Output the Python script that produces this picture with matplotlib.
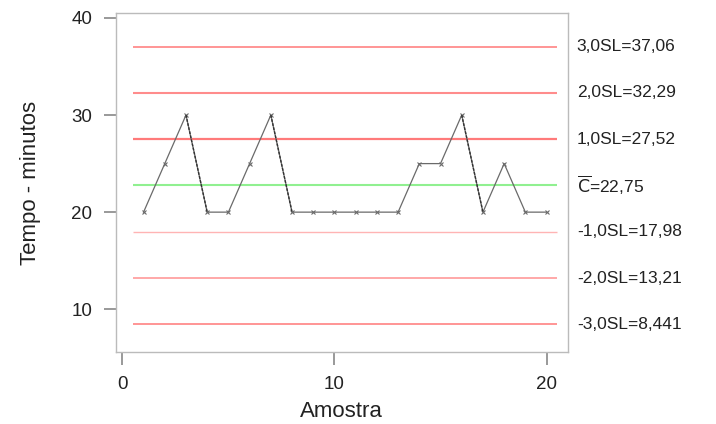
import matplotlib
matplotlib.use("Agg")
import matplotlib.pyplot as plt

# sample number and observed time (minutes)
amostra = list(range(1, 21))
tempo = [20, 25, 30, 20, 20, 25, 30, 20, 20, 20,
         20, 20, 20, 25, 25, 30, 20, 25, 20, 20]

# control limits
limit_values = [37.06, 32.29, 27.52, 22.75, 17.98, 13.21, 8.441]
limit_labels = ["3,0SL=37,06", "2,0SL=32,29", "1,0SL=27,52", r"$\overline{\rm C}$=22,75",
                "-1,0SL=17,98", "-2,0SL=13,21", "-3,0SL=8,441"]
limit_colors = ["#ff8c8c", "#ff8c8c", "#ff7a7a", "#90f090",
                "#ffb4b4", "#ff9a9a", "#ff8c8c"]
limit_widths = [1.3, 1.5, 1.6, 1.5, 1.0, 1.2, 1.3]

plt.rcParams.update({"font.family": ["Liberation Sans", "DejaVu Sans"]})

fig = plt.figure(figsize=(7.16, 4.24), dpi=100)
ax = fig.add_axes([0.162, 0.170, 0.631, 0.799])

for val, lbl, c, lw in zip(limit_values, limit_labels, limit_colors, limit_widths):
    ax.hlines(val, 0.5, 20.5, color=c, linewidth=lw, zorder=1)
    ax.text(1.02, val, lbl, transform=ax.get_yaxis_transform(),
            ha="left", va="center", fontsize=12.5, color="#222222")

ax.plot(amostra, tempo, color="#6a6a6a", linewidth=0.9, marker="x",
        markersize=3, markeredgewidth=0.8, zorder=3)
# steep falling segments drawn darker dashed as in the original
for i in range(len(tempo) - 1):
    if tempo[i] - tempo[i + 1] >= 10:
        ax.plot(amostra[i:i + 2], tempo[i:i + 2], color="#333333",
                linewidth=1.0, linestyle=(0, (2, 1)), zorder=4)

ax.set_xlim(-0.3, 21)
ax.set_ylim(5.6, 40.5)
ax.set_xticks([0, 10, 20])
ax.set_yticks([10, 20, 30, 40])
ax.tick_params(axis="both", direction="out", length=9, width=1.2,
               color="#888888", labelsize=13.5, labelcolor="#222222", pad=8)
for s in ax.spines.values():
    s.set_color("#bbbbbb")
    s.set_linewidth(1.0)

ax.set_xlabel("Amostra", fontsize=16, color="#222222", labelpad=6)
ax.set_ylabel("Tempo - minutos", fontsize=16, color="#222222", labelpad=22)

fig.savefig("out.png", dpi=100, facecolor="white")
